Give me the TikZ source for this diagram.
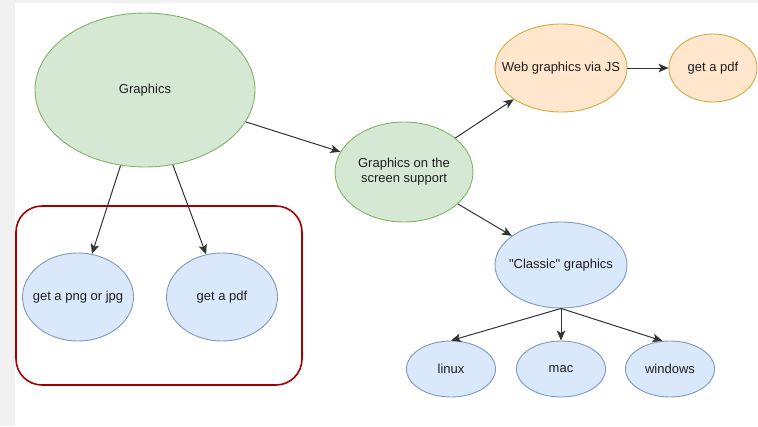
\documentclass[tikz,border=0pt]{standalone}
\usepackage{fontspec}
\setmainfont{Liberation Sans}[Ligatures=TeXOff]
\usetikzlibrary{shapes.geometric,arrows.meta}
\definecolor{gfill}{HTML}{D5E8D4}
\definecolor{gline}{HTML}{82B366}
\definecolor{ofill}{HTML}{FFE6CC}
\definecolor{oline}{HTML}{D6A940}
\definecolor{bfill}{HTML}{DAE8FC}
\definecolor{bline}{HTML}{8197BF}
\definecolor{redbox}{HTML}{A50000}
\definecolor{bggray}{HTML}{F1F1F1}
\definecolor{txt}{HTML}{1E1E1E}
\newcommand{\nw}[1]{\makebox[0pt][c]{#1}}
\tikzset{
  bub/.style={ellipse, inner sep=0pt, line width=0.9pt, font=\fontsize{13}{15.5}\selectfont, text=txt},
  green/.style={bub, fill=gfill, draw=gline},
  orange/.style={bub, fill=ofill, draw=oline},
  blue/.style={bub, fill=bfill, draw=bline},
  conn/.style={draw=black!80, line width=1pt, -{Stealth[length=10pt,width=8.5pt,inset=2.5pt]}},
}
\begin{document}
\begin{tikzpicture}[x=1pt,y=-1pt]
\useasboundingbox (0,0) rectangle (758,426);
\fill[bggray] (0,0) rectangle (758,426);
\fill[white] (15,3) rectangle (758,426);
\draw[redbox, line width=1.6pt, rounded corners=26pt] (16,206) rectangle (302,385);
\node[green, minimum width=220pt, minimum height=154pt] (gr) at (145,90) {\nw{Graphics}};
\node[green, minimum width=138pt, minimum height=100pt] (scr) at (404,172) {\nw{\begin{tabular}{@{}c@{}}Graphics on the\\screen support\end{tabular}}};
\node[orange, minimum width=132pt, minimum height=88pt] (web) at (561,68) {\nw{Web graphics via JS}};
\node[orange, minimum width=88pt, minimum height=68pt] (wpdf) at (713,68) {\nw{get a pdf}};
\node[blue, minimum width=132pt, minimum height=86pt] (cls) at (561,265) {\nw{"Classic" graphics}};
\node[blue, minimum width=89pt, minimum height=56pt] (lin) at (451,369) {\nw{linux}};
\node[blue, minimum width=89pt, minimum height=56pt] (mac) at (561,369) {\nw{mac}};
\node[blue, minimum width=89pt, minimum height=56pt] (win) at (670,369) {\nw{windows}};
\node[blue, minimum width=111pt, minimum height=88pt] (png) at (78,297) {\nw{get a png or jpg}};
\node[blue, minimum width=111pt, minimum height=88pt] (pdf) at (222,297) {\nw{get a pdf}};
\draw[conn] (gr) -- (png);
\draw[conn] (gr) -- (pdf);
\draw[conn] (gr) -- (scr);
\draw[conn] (scr) -- (web);
\draw[conn] (web) -- (wpdf);
\draw[conn] (scr) -- (cls);
\draw[conn] (cls.south) -- (lin.90);
\draw[conn] (cls.south) -- (mac.north);
\draw[conn] (cls.south) -- (win.105);
\end{tikzpicture}
\end{document}
